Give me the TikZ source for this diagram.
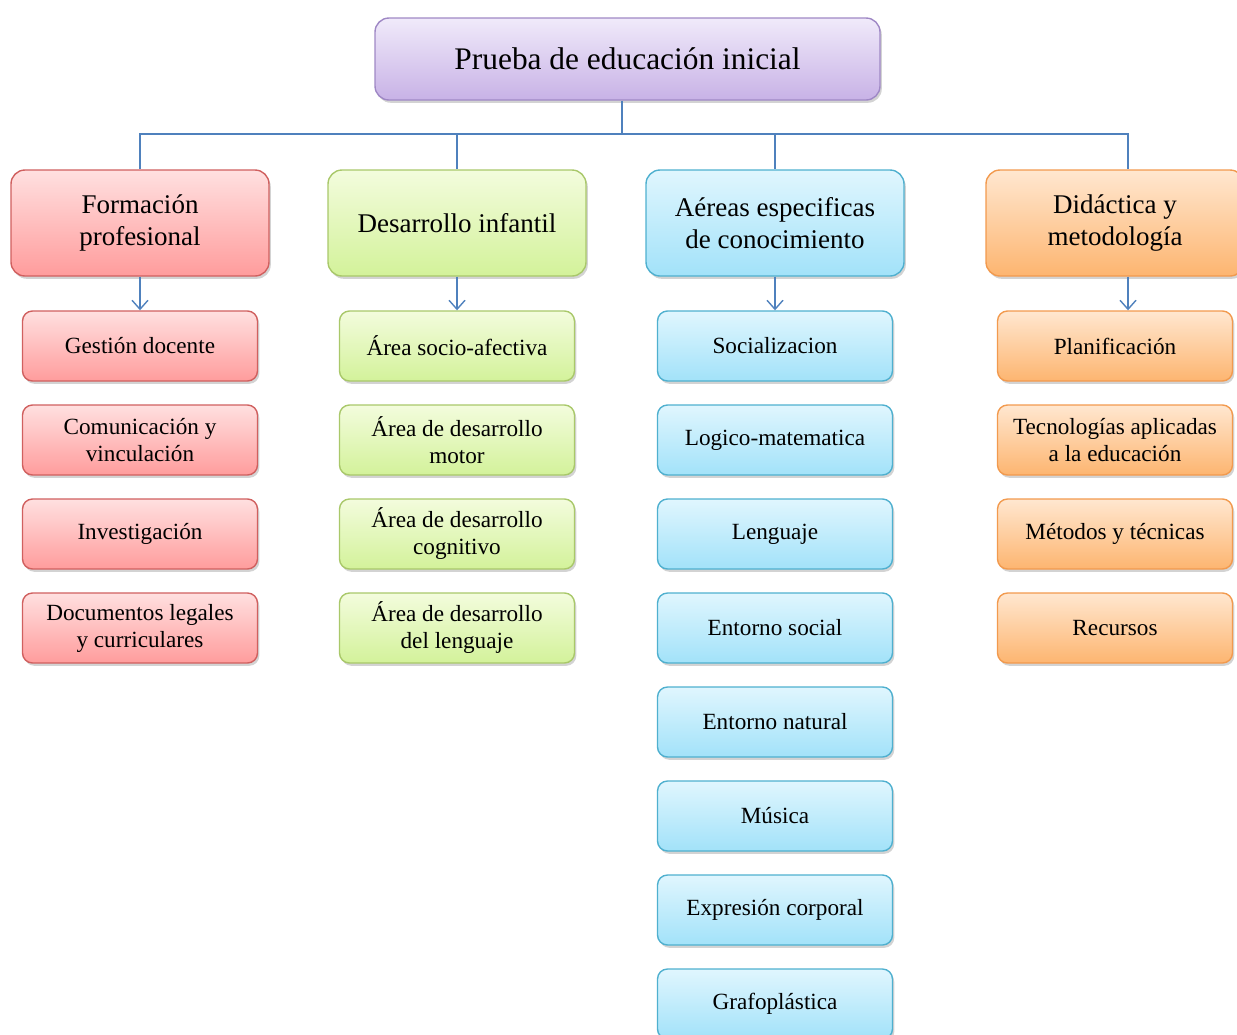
\documentclass[tikz,border=0pt]{standalone}
\usepackage{fontspec}
\setmainfont{Liberation Serif}
\usetikzlibrary{arrows.meta,shadows,positioning}

\definecolor{lineaazul}{HTML}{4F81BD}
\definecolor{morado}{HTML}{9F88C5}
\definecolor{rojo}{HTML}{D0605F}
\definecolor{verde}{HTML}{A9C86A}
\definecolor{celeste}{HTML}{4FB0CF}
\definecolor{naranja}{HTML}{F29A4E}
% rellenos
\definecolor{moradoA}{HTML}{F0EAFA}
\definecolor{moradoB}{HTML}{C8B2E6}
\definecolor{rojoA}{HTML}{FFE0E0}
\definecolor{rojoB}{HTML}{FF9C9C}
\definecolor{verdeA}{HTML}{F3FCDD}
\definecolor{verdeB}{HTML}{D3F29A}
\definecolor{celesteA}{HTML}{E0F6FE}
\definecolor{celesteB}{HTML}{A2E2F9}
\definecolor{naranjaA}{HTML}{FFE7D0}
\definecolor{naranjaB}{HTML}{FDB570}

\tikzset{
  caja/.style={draw, align=center, line width=0.7pt, text=black,
    drop shadow={shadow xshift=0.9pt, shadow yshift=-1.4pt, opacity=0.35}},
  raizbox/.style={caja, rounded corners=7pt, minimum width=252.5pt,
    minimum height=41pt, font=\fontsize{15.7}{18}\selectfont},
  ramabox/.style={caja, rounded corners=7pt, minimum width=129pt,
    minimum height=53pt, font=\fontsize{13.5}{16}\selectfont},
  hojabox/.style={caja, rounded corners=5pt, minimum width=117.5pt,
    minimum height=35pt, font=\fontsize{11.6}{13.5}\selectfont},
  tmorado/.style={draw=morado, top color=moradoA, bottom color=moradoB},
  trojo/.style={draw=rojo, top color=rojoA, bottom color=rojoB},
  tverde/.style={draw=verde, top color=verdeA, bottom color=verdeB},
  tceleste/.style={draw=celeste, top color=celesteA, bottom color=celesteB},
  tnaranja/.style={draw=naranja, top color=naranjaA, bottom color=naranjaB},
  linea/.style={draw=lineaazul, line width=0.7pt},
  flecha/.style={linea, -{Straight Barb[length=4.5pt,width=8pt]}}
}

\begin{document}
\begin{tikzpicture}[x=0.5pt,y=-0.5pt]
  \useasboundingbox (0,0) rectangle (1237,1034);
  \clip (0,0) rectangle (1237,1034);

  % Raiz
  \node[raizbox, tmorado] (raiz) at (627.5,59) {Prueba de educación inicial};
  \coordinate (bus) at (622,134);

  % Ramas
  \node[ramabox, trojo] (form) at (140,223) {Formación\\profesional};
  \node[ramabox, tverde] (desa) at (457,223) {Desarrollo infantil};
  \node[ramabox, tceleste] (area) at (775,223) {Aéreas especificas\\de conocimiento};
  \node[ramabox, tnaranja] (dida) at (1115,223) {Didáctica y\\metodología};

  \draw[linea] (raiz.south -| bus) -- (bus);
  \draw[linea] (bus) -| (form.north);
  \draw[linea] (bus) -| (desa.north);
  \draw[linea] (bus) -| (area.north);
  \draw[linea] (bus) -| ([xshift=6.5pt]dida.north);

  % Hojas
  \foreach \t [count=\i] in {Gestión docente, {Comunicación y\\vinculación},
      Investigación, {Documentos legales\\y curriculares}}
    \node[hojabox, trojo] (f\i) at (140,{346+94*(\i-1)}) {\t};
  \foreach \t [count=\i] in {Área socio-afectiva, {Área de desarrollo\\motor},
      {Área de desarrollo\\cognitivo}, {Área de desarrollo\\del lenguaje}}
    \node[hojabox, tverde] (d\i) at (457,{346+94*(\i-1)}) {\t};
  \foreach \t [count=\i] in {Socializacion, Logico-matematica, Lenguaje,
      Entorno social, Entorno natural, Música, Expresión corporal, Grafoplástica}
    \node[hojabox, tceleste] (a\i) at (775,{346+94*(\i-1)}) {\t};
  \foreach \t [count=\i] in {Planificación, {Tecnologías aplicadas\\a la educación},
      Métodos y técnicas, Recursos}
    \node[hojabox, tnaranja] (m\i) at (1115,{346+94*(\i-1)}) {\t};

  % Flechas
  \draw[flecha] (form.south) -- (f1.north);
  \draw[flecha] (desa.south) -- (d1.north);
  \draw[flecha] (area.south) -- (a1.north);
  \draw[flecha] ([xshift=6.5pt]dida.south) -- ([xshift=6.5pt]m1.north);
\end{tikzpicture}
\end{document}
